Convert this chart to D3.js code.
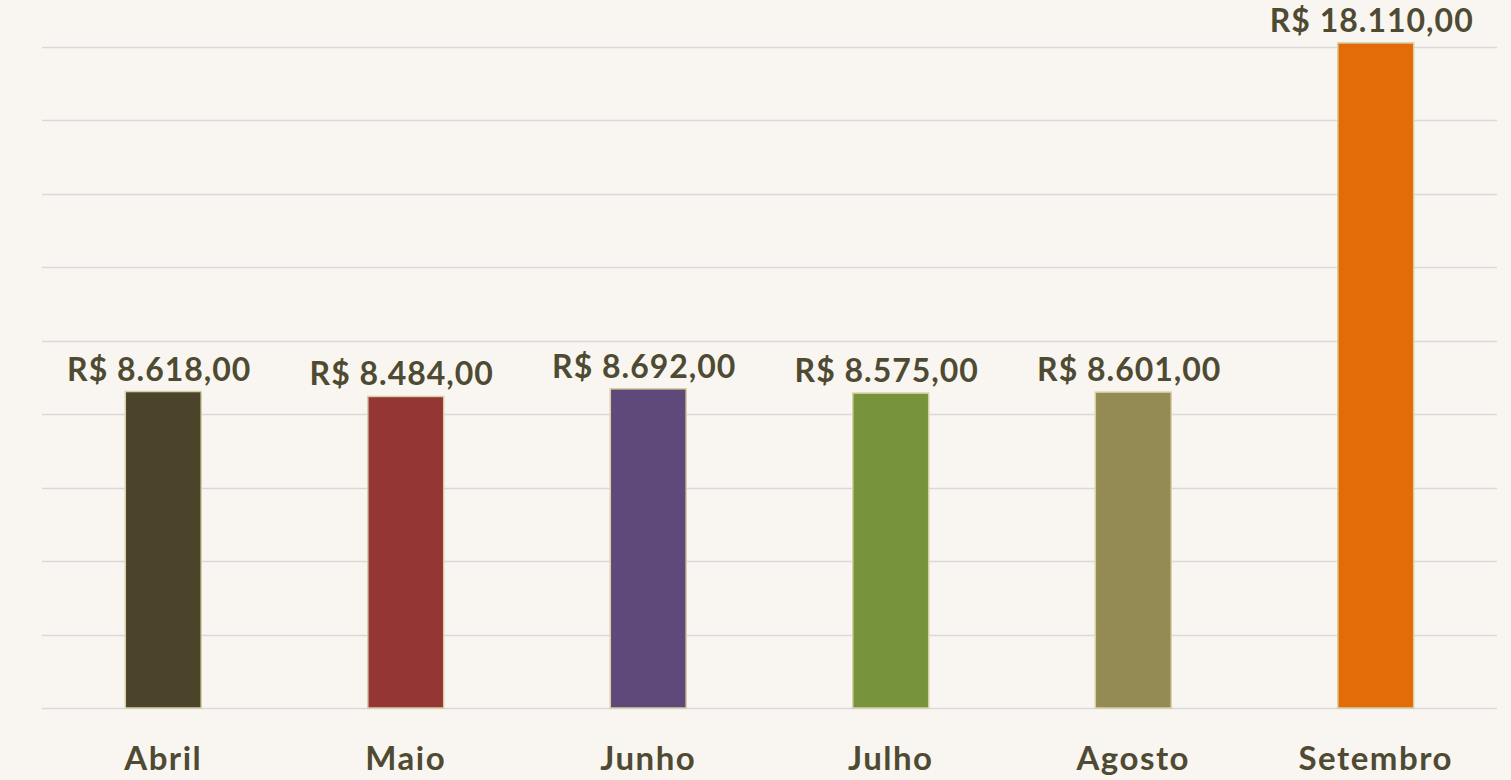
<!DOCTYPE html>
<html>
<head>
<meta charset="utf-8">
<script src="https://cdn.jsdelivr.net/npm/d3@7"></script>
<style>
  html, body { margin: 0; padding: 0; background: #f9f6f1; }
  svg { display: block; }
  text { font-family: Lato, "Open Sans", sans-serif; font-weight: 700; fill: #4f4a32; }
</style>
</head>
<body>
<svg id="chart" width="1511" height="780"></svg>
<script>
// months and totals (R$)
let months = ["Abril", "Maio", "Junho", "Julho", "Agosto", "Setembro"],
    totals = [8618, 8484, 8692, 8575, 8601, 18110],
    colors = ["#4b442b", "#943634", "#5f497a", "#77933c", "#948a54", "#e36c09"],
    grid_ticks = [0, 2000, 4000, 6000, 8000, 10000, 12000, 14000, 16000, 18000];

let width = 1511,
    height = 780,
    margins = {top: 47, bottom: 72, left: 42, right: 14};

let data = months.map((m, i) => ({month: m, total: totals[i], color: colors[i]}));

let x = d3.scaleBand()
  .domain(months)
  .range([margins.left, width - margins.right])
  .paddingInner(0.687)
  .paddingOuter(0.3435);

let y = d3.scaleLinear()
  .domain([0, 18000])
  .range([height - margins.bottom, margins.top]);

// brazilian currency format: R$ 8.618,00
let fmt = v => "R$ " + d3.format(",.2f")(v).replace(/,/g, "#").replace(".", ",").replace(/#/g, ".");

let svg = d3.select("#chart");

// gridlines
svg.append("g")
  .selectAll("line")
  .data(grid_ticks).enter()
  .append("line")
  .attr("x1", margins.left)
  .attr("x2", width - margins.right)
  .attr("y1", d => Math.round(y(d)) + 0.5)
  .attr("y2", d => Math.round(y(d)) + 0.5)
  .attr("stroke", "#d9d9d9")
  .attr("stroke-width", 1.5);

// bars
svg.append("g")
  .selectAll("rect")
  .data(data).enter()
  .append("rect")
  .attr("x", d => x(d.month))
  .attr("y", d => y(d.total))
  .attr("width", x.bandwidth())
  .attr("height", d => y(0) - y(d.total))
  .attr("fill", d => d.color)
  .attr("stroke", "#d8d0a4")
  .attr("stroke-width", 1.5);

// value labels
svg.append("g")
  .selectAll("text")
  .data(data).enter()
  .append("text")
  .attr("x", d => x(d.month) + x.bandwidth() / 2 - 4)
  .attr("y", d => y(d.total) - 11)
  .attr("text-anchor", "middle")
  .attr("font-size", 32)
  .attr("letter-spacing", 1)
  .text(d => fmt(d.total));

// category axis (labels only)
let x_axis = d3.axisBottom(x).tickSize(0).tickPadding(0);
let ax = svg.append("g")
  .attr("transform", `translate(0,${height - margins.bottom})`)
  .call(x_axis);
ax.select(".domain").remove();
ax.selectAll("text")
  .attr("dy", null)
  .attr("y", 62)
  .attr("font-size", 33)
  .attr("letter-spacing", 1.5)
  .style("font-family", "Lato, 'Open Sans', sans-serif")
  .style("font-weight", 700)
  .attr("fill", "#4f4a32");
</script>
</body>
</html>
